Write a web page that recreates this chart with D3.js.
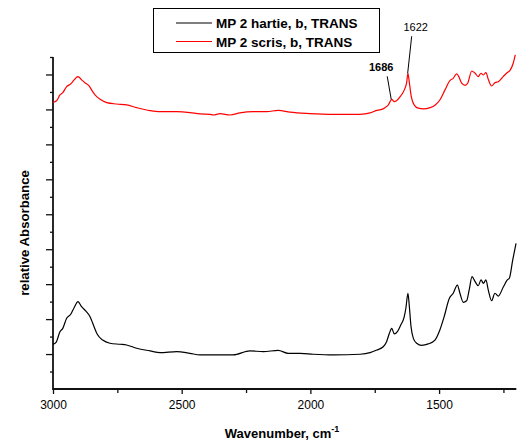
<!DOCTYPE html>
<html><head><meta charset="utf-8">
<script src="https://cdn.jsdelivr.net/npm/d3@7/dist/d3.min.js"></script>
<style>
body{margin:0;background:#fff;}
svg{display:block;font-family:"Liberation Sans",Arial,sans-serif;}
</style></head>
<body><svg id="c" width="518" height="443"></svg>
<script>
const seriesNames = ["MP 2 hartie, b, TRANS", "MP 2 scris, b, TRANS"];
const seriesColors = ["#000000", "#ff0000"];
const xMajorTicks = [3000, 2500, 2000, 1500];
const xMinorTicks = [2750, 2250, 1750, 1250];
const peakLabels = [{wn:1686, v:16.58, text:"1686", bold:true}, {wn:1622, v:18.07, text:"1622", bold:false}];

// wavenumber, relative absorbance (axis units)
const blackWn = [3000,2988,2973,2962,2947,2931,2918,2903,2889,2872,2856,2843,2828,2807,2779,2740,2714,2675,2623,2584,2519,2468,2429,2300,2235,2183,2125,2086,2040,1989,1911,1807,1768,1742,1717,1704,1693,1684,1674,1662,1649,1636,1629,1621,1616,1609,1600,1587,1568,1542,1516,1497,1481,1460,1445,1429,1419,1406,1393,1383,1372,1360,1348,1337,1328,1318,1309,1296,1283,1270,1251,1235,1227,1214,1201];
const blackV  = [2.56,2.67,3.28,3.47,4.05,4.28,4.65,5.00,4.71,4.46,4.14,3.66,3.13,2.80,2.62,2.56,2.52,2.33,2.18,2.08,2.14,2.04,1.95,1.95,2.18,2.14,2.21,2.04,2.04,1.99,1.95,1.99,2.08,2.23,2.42,2.71,3.19,3.47,3.15,3.28,3.66,4.10,4.62,5.48,4.81,3.57,2.90,2.62,2.50,2.58,2.80,3.38,4.10,5.19,5.48,5.95,5.48,4.96,5.05,5.67,6.43,6.14,5.91,6.24,6.05,6.24,5.67,5.05,5.48,5.32,5.82,6.24,6.34,7.38,8.34];
const redWn = [3000,2986,2973,2962,2947,2931,2918,2903,2889,2876,2859,2846,2833,2817,2791,2753,2714,2675,2623,2584,2519,2468,2429,2390,2377,2351,2312,2274,2222,2170,2125,2079,2002,1911,1807,1768,1742,1730,1710,1697,1684,1675,1665,1649,1635,1626,1621,1616,1608,1597,1581,1561,1535,1516,1497,1477,1458,1445,1432,1425,1412,1399,1389,1373,1360,1348,1337,1328,1318,1309,1296,1283,1270,1251,1235,1225,1212,1204];
const redV  = [16.41,16.50,16.83,16.96,17.30,17.46,17.69,17.88,17.69,17.53,17.34,17.02,16.77,16.58,16.39,16.31,16.26,16.10,15.93,15.87,15.87,15.82,15.74,15.72,15.68,15.76,15.68,15.80,15.87,15.87,15.95,15.84,15.76,15.72,15.72,15.80,15.95,15.97,16.10,16.26,16.58,16.45,16.50,16.77,17.12,17.53,18.07,17.59,16.73,16.26,16.07,16.03,16.10,16.24,16.54,17.12,17.65,17.78,18.03,17.92,17.50,17.38,17.50,18.20,18.07,17.88,18.07,17.97,18.11,17.73,17.34,17.53,17.59,17.88,18.11,18.22,18.64,19.12];

const svg = d3.select("#c");
const m = {l:53, t:57, r:516.3, b:389};
const x = d3.scaleLinear().domain([3000,1200]).range([m.l, m.r]);
const y = d3.scaleLinear().domain([0,19]).range([m.b, m.t]);

// axes
const yMinor = d3.range(1,20,2), yMajor = d3.range(2,19,2);
const gy = svg.append("g").attr("transform",`translate(${m.l},0)`);
gy.call(d3.axisLeft(y).tickValues(yMajor).tickSize(7).tickFormat(""));
gy.append("g").call(d3.axisLeft(y).tickValues(yMinor).tickSize(3).tickFormat(""));
const gx = svg.append("g").attr("transform",`translate(0,${m.b})`);
gx.call(d3.axisBottom(x).tickValues(xMajorTicks).tickSize(5).tickPadding(6).tickFormat(d3.format("d")));
gx.append("g").call(d3.axisBottom(x).tickValues(xMinorTicks).tickSize(4).tickFormat(""));
svg.selectAll(".domain").remove();
svg.append("line").attr("x1",m.l).attr("x2",m.l).attr("y1",m.t).attr("y2",m.b+1).attr("stroke","#111").attr("stroke-width",1.8);
svg.append("line").attr("x1",m.l).attr("x2",m.r).attr("y1",m.b).attr("y2",m.b).attr("stroke","#111").attr("stroke-width",1.8);
svg.selectAll(".tick line").attr("stroke","#111").attr("stroke-width",1.3);
svg.selectAll(".tick text").attr("font-size",12).attr("font-family","Liberation Sans, Arial, sans-serif").attr("fill","#000");

// series
const line = d3.line().x(d=>x(d[0])).y(d=>y(d[1])).curve(d3.curveMonotoneX);
const dataSets = [d3.zip(blackWn, blackV), d3.zip(redWn, redV)];
dataSets.forEach((ds,i)=>{
  svg.append("path").datum(ds).attr("d",line).attr("fill","none")
    .attr("stroke",seriesColors[i]).attr("stroke-width",1.2);
});

// peak annotations
const ann = [{dx1:-4,dy1:-23,tx:-10,ty:-28},{dx1:4,dy1:-37,tx:8,ty:-42}];
peakLabels.forEach((p,i)=>{
  const px = x(p.wn), py = y(p.v), a = ann[i];
  svg.append("line").attr("x1",px+a.dx1).attr("y1",py+a.dy1).attr("x2",px).attr("y2",py)
    .attr("stroke","#000").attr("stroke-width",1);
  svg.append("text").attr("x",px+a.tx).attr("y",py+a.ty).attr("text-anchor","middle")
    .attr("font-size",11).attr("font-weight",p.bold?"bold":"normal").text(p.text);
});

// legend
const lg = svg.append("g");
lg.append("rect").attr("x",153.5).attr("y",8.5).attr("width",226).attr("height",44)
  .attr("fill","#fff").attr("stroke","#000").attr("stroke-width",1);
seriesNames.forEach((n,i)=>{
  const ly = 23 + i*18.5;
  lg.append("line").attr("x1",176).attr("x2",212).attr("y1",ly).attr("y2",ly)
    .attr("stroke",seriesColors[i]).attr("stroke-width",1.2);
  lg.append("text").attr("x",216).attr("y",ly+5).attr("font-size",13.5).attr("font-weight","bold").text(n);
});

// axis titles
const xt = svg.append("text").attr("x",282).attr("y",438).attr("text-anchor","middle")
  .attr("font-size",13).attr("font-weight","bold");
xt.append("tspan").text("Wavenumber, cm");
xt.append("tspan").attr("dy",-6).attr("font-size",9).text("-1");
svg.append("text").attr("transform",`translate(29,233) rotate(-90)`)
  .attr("text-anchor","middle").attr("font-size",13.2).attr("font-weight","bold").text("relative Absorbance");
</script></body></html>
